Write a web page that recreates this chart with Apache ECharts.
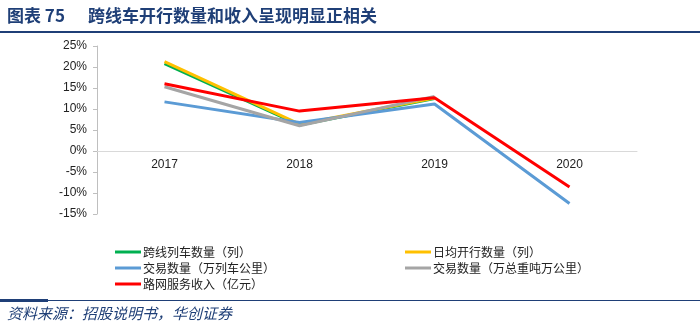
<!DOCTYPE html>
<html><head><meta charset="utf-8">
<script src="https://cdn.jsdelivr.net/npm/echarts@6/dist/echarts.min.js"></script>
<style>html,body{margin:0;padding:0;background:#fff}#c{width:700px;height:330px}</style>
</head><body><div id="c"></div>
<script>
var years = ['2017', '2018', '2019', '2020'];
var trainCount = [20.8, 6.2, 12.5, null];
var dailyTrains = [21.3, 6.4, 12.6, null];
var tradeTrainKm = [11.7, 6.8, 11.2, -12.5];
var tradeTonKm = [15.3, 6.0, 13.0, null];
var revenue = [16.0, 9.5, 12.7, -8.6];
var seriesNames = ['跨线列车数量（列）', '日均开行数量（列）', '交易数量（万列车公里）', '交易数量（万总重吨万公里）', '路网服务收入（亿元）'];
var yTicks = { min: -15, max: 25, interval: 5 };

var colors = ['#00b050', '#ffc000', '#5b9bd5', '#a5a5a5', '#ff0000'];
var dataSets = [trainCount, dailyTrains, tradeTrainKm, tradeTonKm, revenue];
var chart = echarts.init(document.getElementById('c'));
var cjk = '"Noto Sans CJK SC", sans-serif';
var legendBase = {
  orient: 'vertical', icon: 'rect', itemWidth: 26, itemHeight: 3, itemGap: 4,
  textStyle: { fontFamily: cjk, fontSize: 12, color: '#222', padding: [0, 0, 0, -3] },
  padding: 0
};
chart.setOption({
  animation: false,
  color: colors,
  grid: { left: 97, right: 63, top: 46, bottom: 116 },
  legend: [
    Object.assign({}, legendBase, { left: 115, top: 246, data: [seriesNames[0], seriesNames[2], seriesNames[4]] }),
    Object.assign({}, legendBase, { left: 405, top: 246, data: [seriesNames[1], seriesNames[3]] })
  ],
  xAxis: {
    type: 'category', data: years, boundaryGap: true,
    axisLine: { onZero: false, lineStyle: { color: '#d9d9d9', width: 1 } },
    offset: -63,
    axisTick: { show: false },
    axisLabel: { color: '#222', fontSize: 12, fontFamily: '"Liberation Sans", Arial, sans-serif', margin: 8 }
  },
  yAxis: {
    type: 'value', min: yTicks.min, max: yTicks.max, interval: yTicks.interval,
    axisLine: { show: true, lineStyle: { color: '#bfbfbf' } },
    axisTick: { show: true, length: 4, lineStyle: { color: '#bfbfbf' } },
    splitLine: { show: false },
    axisLabel: { formatter: '{value}%', color: '#222', fontSize: 12, fontFamily: '"Liberation Sans", Arial, sans-serif', margin: 10 }
  },
  series: seriesNames.map(function (n, i) {
    return { name: n, type: 'line', data: dataSets[i], symbol: 'none', connectNulls: false,
      lineStyle: { width: 3, color: colors[i] }, itemStyle: { color: colors[i] }, z: 2 + i };
  }),
  graphic: [
    { type: 'text', left: 7, top: 7, style: { text: '图表 75', font: 'bold 17px "Noto Sans CJK SC"', fill: '#1f3f77' } },
    { type: 'text', left: 88, top: 7, style: { text: '跨线车开行数量和收入呈现明显正相关', font: 'bold 17px "Noto Sans CJK SC"', fill: '#1f3f77' } },
    { type: 'rect', shape: { x: 0, y: 31, width: 700, height: 2 }, style: { fill: '#1f3f77' } },
    { type: 'rect', shape: { x: 0, y: 300, width: 700, height: 1 }, style: { fill: '#1f3f77' } },
    { type: 'rect', shape: { x: 0, y: 299, width: 48, height: 3 }, style: { fill: '#1f3f77' } },
    { type: 'text', left: 7, top: 306, style: { text: '资料来源：招股说明书，华创证券', font: 'italic 15px "Noto Sans CJK SC"', fill: '#1f3f77' } }
  ]
});
</script></body></html>
